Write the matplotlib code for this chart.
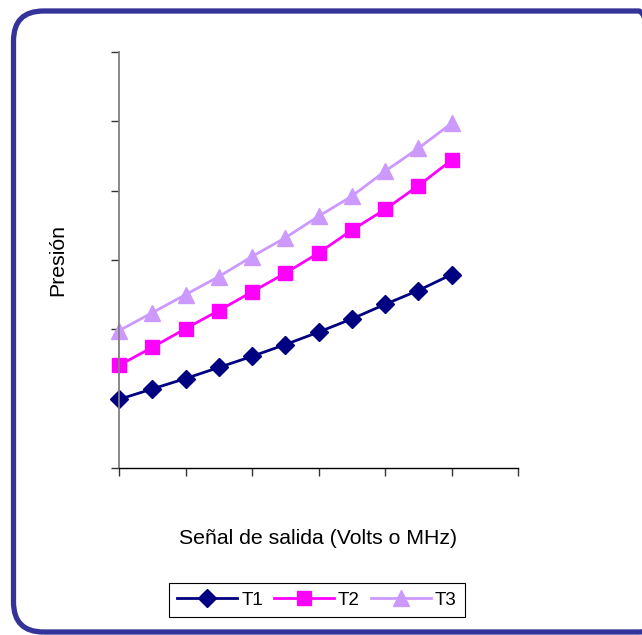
import matplotlib.pyplot as plt
from matplotlib.patches import FancyBboxPatch
import numpy as np

# 数据
x_vals = [0, 1, 2, 3, 4, 5, 6, 7, 8, 9, 10]
t1 = [0.99, 1.14, 1.29, 1.45, 1.61, 1.78, 1.96, 2.15, 2.36, 2.56, 2.79]
t2 = [1.48, 1.74, 2.01, 2.27, 2.54, 2.81, 3.10, 3.43, 3.73, 4.07, 4.44]
t3 = [1.98, 2.24, 2.50, 2.76, 3.05, 3.32, 3.63, 3.92, 4.28, 4.61, 4.97]
series_names = ['T1', 'T2', 'T3']

plt.rcParams['font.family'] = ['Liberation Sans', 'DejaVu Sans']

W, H = 642, 635
fig = plt.figure(figsize=(W / 100, H / 100), dpi=100)

# 圆角边框（英寸坐标，右侧超出画面）
border = FancyBboxPatch((0.135, 0.03), 6.55, 6.21,
                        boxstyle='round,pad=0,rounding_size=0.3',
                        transform=fig.dpi_scale_trans, facecolor='none',
                        edgecolor='#333399', linewidth=3.8, zorder=-1)
fig.patches.append(border)

ax = fig.add_axes([119 / W, 1 - 468 / H, (518 - 119) / W, (468 - 52) / H])
ax.patch.set_alpha(0)

ax.plot(x_vals, t1, color='#000080', marker='D', markersize=9, linewidth=2,
        label=series_names[0], clip_on=False)
ax.plot(x_vals, t2, color='#FF00FF', marker='s', markersize=10, linewidth=2,
        label=series_names[1], clip_on=False)
ax.plot(x_vals, t3, color='#CC99FF', marker='^', markersize=11, linewidth=2,
        label=series_names[2], clip_on=False)

ax.set_xlim(0, 12)
ax.set_ylim(0, 6)
ax.set_xticks(np.arange(0, 13, 2))
ax.set_yticks(np.arange(0, 7, 1))
ax.set_xticklabels([])
ax.set_yticklabels([])

for s in ['top', 'right']:
    ax.spines[s].set_visible(False)
ax.spines['left'].set_color('#808080')
ax.spines['left'].set_linewidth(1.3)
ax.spines['bottom'].set_color('black')
ax.spines['bottom'].set_linewidth(1.0)
ax.tick_params(axis='both', direction='out', length=6, width=1, color='#333333')

ax.set_ylabel('Presión', fontsize=15.3, labelpad=28)
ax.set_xlabel('Señal de salida (Volts o MHz)', fontsize=15.3, labelpad=34.5)

leg = fig.legend(loc='center', bbox_to_anchor=(317 / W, 1 - 600 / H), ncol=3,
                 fontsize=13.5, frameon=True, fancybox=False, edgecolor='black',
                 handlelength=3.2, handletextpad=0.2, columnspacing=0.6,
                 borderpad=0.45, framealpha=1)
leg.get_frame().set_linewidth(0.8)

fig.savefig('out.png', dpi=100)
